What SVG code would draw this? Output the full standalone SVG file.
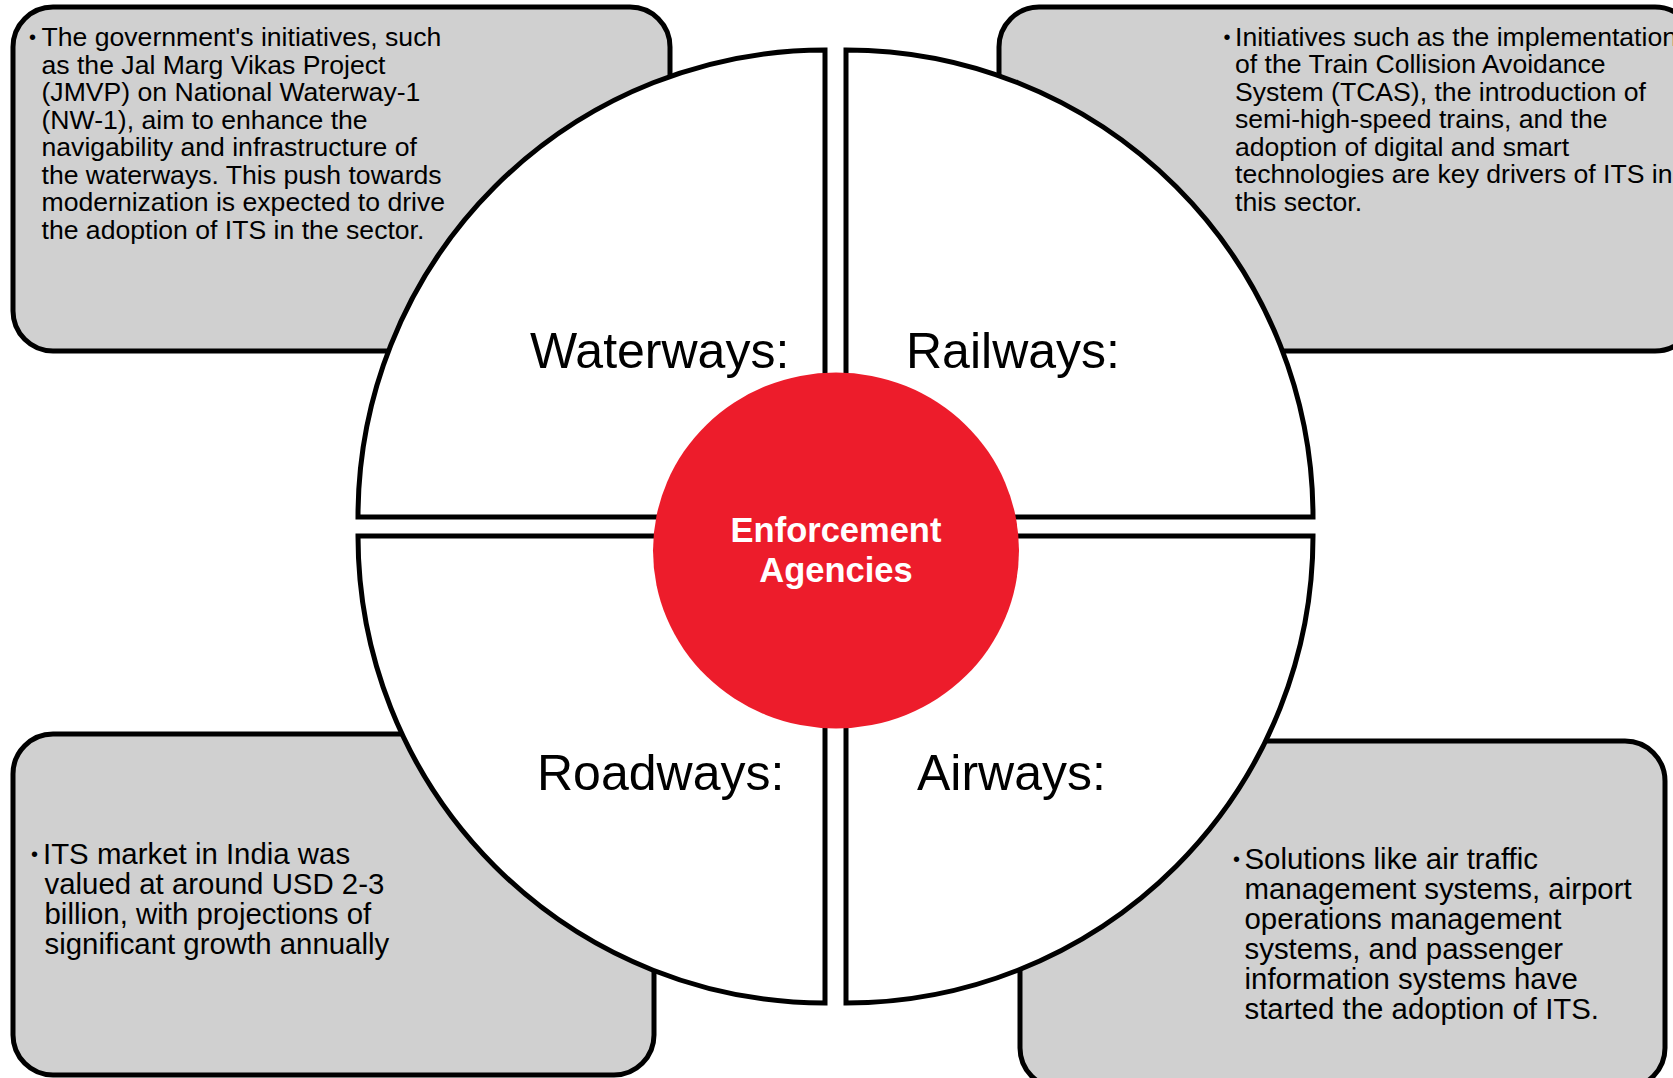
<svg xmlns="http://www.w3.org/2000/svg" width="1673" height="1078" viewBox="0 0 1673 1078">
<style>
.box{fill:#D0D0D0;stroke:#000;stroke-width:5}
.quad{fill:#fff;stroke:#000;stroke-width:5;stroke-linejoin:miter}
.t{font-family:"Liberation Sans",Arial,sans-serif;fill:#000}
.s{font-size:26.6px}
.b{font-size:29.4px}
.bul{font-size:20px}
.lbl{font-family:"Liberation Sans",Arial,sans-serif;font-size:50px;fill:#000}
.ctr{font-family:"Liberation Sans",Arial,sans-serif;font-size:34.5px;font-weight:bold;fill:#fff;text-anchor:middle}
</style>
<rect width="1673" height="1078" fill="#fff"/>
<g id="box-waterways">
<rect class="box" x="13" y="7" width="657" height="344" rx="40"/>
<text class="t bul" x="29" y="44">•</text>
<text class="t s" x="41.5" y="46">
<tspan x="41.5" y="46">The government's initiatives, such</tspan>
<tspan x="41.5" y="73.5">as the Jal Marg Vikas Project</tspan>
<tspan x="41.5" y="101">(JMVP) on National Waterway-1</tspan>
<tspan x="41.5" y="128.5">(NW-1), aim to enhance the</tspan>
<tspan x="41.5" y="156">navigability and infrastructure of</tspan>
<tspan x="41.5" y="183.5">the waterways. This push towards</tspan>
<tspan x="41.5" y="211">modernization is expected to drive</tspan>
<tspan x="41.5" y="238.5">the adoption of ITS in the sector.</tspan>
</text>
</g>
<g id="box-railways">
<rect class="box" x="999" y="7" width="696" height="344" rx="40"/>
<text class="t bul" x="1223.5" y="43.5">•</text>
<text class="t s" x="1235" y="45.5">
<tspan x="1235" y="45.5">Initiatives such as the implementation</tspan>
<tspan x="1235" y="73">of the Train Collision Avoidance</tspan>
<tspan x="1235" y="100.5">System (TCAS), the introduction of</tspan>
<tspan x="1235" y="128">semi-high-speed trains, and the</tspan>
<tspan x="1235" y="155.5">adoption of digital and smart</tspan>
<tspan x="1235" y="183">technologies are key drivers of ITS in</tspan>
<tspan x="1235" y="210.5">this sector.</tspan>
</text>
</g>
<g id="box-roadways">
<rect class="box" x="13" y="734" width="641" height="341" rx="40"/>
<text class="t bul" x="31" y="861">•</text>
<text class="t b" x="43" y="863.5">
<tspan x="43" y="863.5">ITS market in India was</tspan>
<tspan x="44.5" y="893.5">valued at around USD 2-3</tspan>
<tspan x="44.5" y="923.5">billion, with projections of</tspan>
<tspan x="44.5" y="953.5">significant growth annually</tspan>
</text>
</g>
<g id="box-airways">
<rect class="box" x="1020" y="741" width="645" height="347" rx="40"/>
<text class="t bul" x="1233" y="866">•</text>
<text class="t b" x="1244.5" y="868.5">
<tspan x="1244.5" y="868.5">Solutions like air traffic</tspan>
<tspan x="1244.5" y="898.5">management systems, airport</tspan>
<tspan x="1244.5" y="928.5">operations management</tspan>
<tspan x="1244.5" y="958.5">systems, and passenger</tspan>
<tspan x="1244.5" y="988.5">information systems have</tspan>
<tspan x="1244.5" y="1018.5">started the adoption of ITS.</tspan>
</text>
</g>
<g id="quadrant-waterways">
<path class="quad" d="M825,517 L358,517 A467,467 0 0 1 825,50 Z"/>
<text class="lbl" x="530" y="368">Waterways:</text>
</g>
<g id="quadrant-railways">
<path class="quad" d="M846,517 L846,50 A467,467 0 0 1 1313,517 Z"/>
<text class="lbl" x="906" y="368">Railways:</text>
</g>
<g id="quadrant-roadways">
<path class="quad" d="M825,536 L825,1003 A467,467 0 0 1 358,536 Z"/>
<text class="lbl" x="537" y="790">Roadways:</text>
</g>
<g id="quadrant-airways">
<path class="quad" d="M846,536 L1313,536 A467,467 0 0 1 846,1003 Z"/>
<text class="lbl" x="917" y="790">Airways:</text>
</g>
<g id="center-enforcement">
<ellipse cx="836" cy="550.5" rx="183" ry="178" fill="#ED1C2B"/>
<text class="ctr" x="836" y="542">Enforcement</text>
<text class="ctr" x="836" y="582">Agencies</text>
</g>
<g id="connectors"></g>
</svg>
